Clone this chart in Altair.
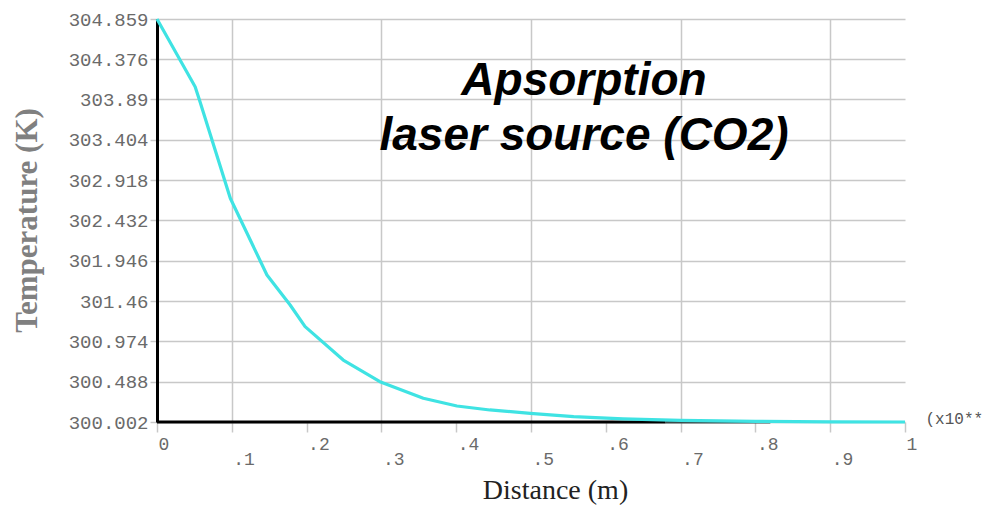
import altair as alt
import pandas as pd

# Curve
dist = [0.000, 0.051, 0.0575, 0.098, 0.147, 0.178, 0.198, 0.249, 0.298, 0.356,
        0.401, 0.445, 0.499, 0.557, 0.623, 0.700, 0.800, 0.900, 1.000]
temp = [304.859, 304.043, 303.862, 302.698, 301.774, 301.412, 301.151, 300.749, 300.488, 300.288,
        300.195, 300.147, 300.107, 300.067, 300.040, 300.022, 300.010, 300.004, 300.002]

y_ticks = [300.002, 300.488, 300.974, 301.46, 301.946, 302.432, 302.918,
           303.404, 303.89, 304.376, 304.859]
x_ticks_even = [0, 0.2, 0.4, 0.6, 0.8, 1.0]
x_ticks_odd = [0.1, 0.3, 0.5, 0.7, 0.9]

# x-axis baseline segments (black then fading)
seg_start = [0.0, 0.68]
seg_end = [0.68, 0.82]
seg_level = [300.002, 300.002]
seg_color = ["#000000", "#3a4a4a"]

title_lines = ["Apsorption", "laser source (CO2)"]

curve = pd.DataFrame({"x": dist, "y": temp})
segs = pd.DataFrame({"x": seg_start, "x2": seg_end, "y": seg_level, "c": seg_color})

y_dom = [min(y_ticks), max(y_ticks)]
x_dom = [0, 1]

mono = "Liberation Mono"
label_expr = "datum.value == 0 ? '0' : datum.value == 1 ? '1' : '.' + round(datum.value*10)"

y_axis = alt.Axis(
    values=y_ticks, format=".6~g", title="Temperature (K)",
    labelFont=mono, labelFontSize=19, labelColor="#6a6a6a", labelPadding=2,
    tickColor="#c8c8c8", tickSize=7, tickWidth=1.5,
    domainColor="#000000", domainWidth=3,
    gridColor="#c8c8c8", gridWidth=1.5,
    titleFont="Liberation Serif", titleFontWeight="bold", titleFontSize=31,
    titleColor="#808080", titleAngle=270, titleX=-130, titleY=201,
    titleAlign="center", titleBaseline="middle",
)
y_enc = alt.Y("y:Q", scale=alt.Scale(domain=y_dom, nice=False, zero=False), axis=y_axis)

axis_even = alt.Axis(
    values=x_ticks_even, orient="bottom", labelExpr=label_expr,
    labelFont=mono, labelFontSize=18, labelColor="#6a6a6a",
    labelAlign="left", labelBaseline="top", labelOffset=1, labelPadding=3, labelFlush=False,
    tickColor="#c8c8c8", tickSize=10, tickWidth=1.5, domain=False,
    gridColor="#c8c8c8", gridWidth=1.5,
    title="Distance (m)", titleFont="Liberation Serif", titleFontWeight="normal",
    titleFontSize=28, titleColor="#222222", titleX=398, titleY=76,
    titleAlign="center", titleBaseline="alphabetic",
)
axis_odd = alt.Axis(
    values=x_ticks_odd, orient="bottom", labelExpr=label_expr,
    labelFont=mono, labelFontSize=18, labelColor="#6a6a6a",
    labelAlign="left", labelBaseline="top", labelOffset=1, labelPadding=18, labelFlush=False,
    tickColor="#c8c8c8", tickSize=10, tickWidth=1.5, domain=False,
    gridColor="#c8c8c8", gridWidth=1.5,
    title="(x10**", titleFont=mono, titleFontWeight="normal",
    titleFontSize=16, titleColor="#555555", titleX=768, titleY=-4,
    titleAlign="left", titleBaseline="middle",
)
x_scale = alt.Scale(domain=x_dom, nice=False, zero=False)

baseline = alt.Chart(segs).mark_rule(strokeWidth=3).encode(
    x=alt.X("x:Q", scale=x_scale, axis=axis_odd),
    x2="x2:Q",
    y=y_enc,
    color=alt.Color("c:N", scale=None),
)

line = alt.Chart(curve).mark_line(color="#3fe3e3", strokeWidth=3.2, interpolate="linear",
                                  strokeJoin="round").encode(
    x=alt.X("x:Q", scale=x_scale, axis=axis_even),
    y=y_enc,
)

title = alt.Chart(pd.DataFrame({"t": [title_lines]})).mark_text(
    font="Liberation Sans", fontSize=46, fontWeight="bold", fontStyle="italic",
    align="center", baseline="alphabetic", lineHeight=55, color="#000000",
).encode(
    text="t",
    x=alt.value(427),
    y=alt.value(76),
)

chart = alt.layer(baseline, line, title).resolve_axis(x="independent").properties(
    width=748, height=403,
    autosize=alt.AutoSizeParams(type="none"),
    padding={"left": 149, "top": 11, "right": 81, "bottom": 85},
    background="white",
).configure_view(stroke=None)

chart.save("out.html", embed_options={"renderer": "svg", "actions": False})
